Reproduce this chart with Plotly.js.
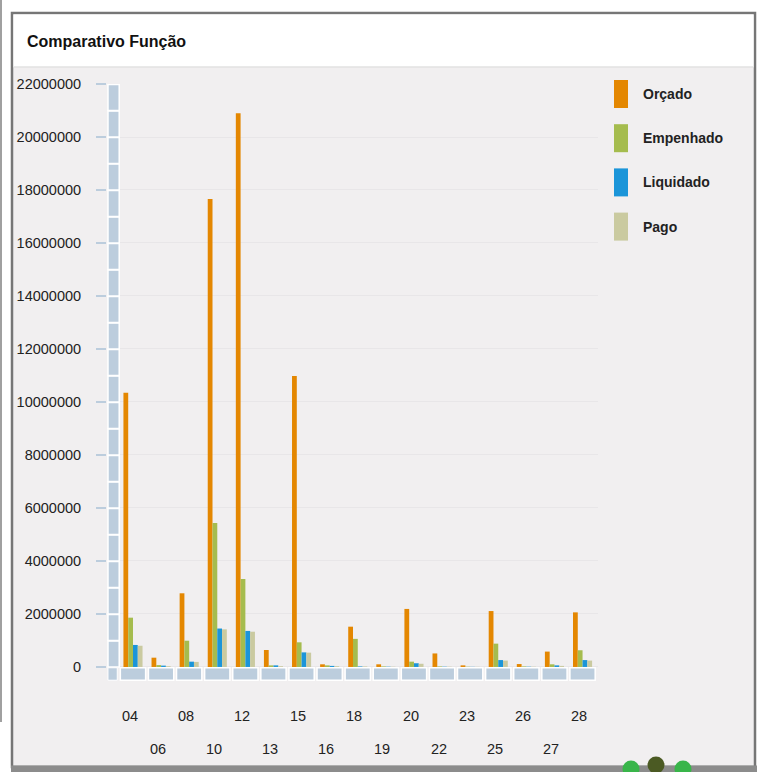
<!DOCTYPE html>
<html>
<head>
<meta charset="utf-8">
<script src="https://cdn.plot.ly/plotly-3.0.1.min.js"></script>
<style>html,body{margin:0;padding:0;background:#fff;}#chart{width:760px;height:772px;}</style>
</head>
<body>
<div id="chart"></div>
<script>
// ---- data ----
const categories = ['04','06','08','10','12','13','15','16','18','19','20','22','23','25','26','27','28'];
const orcado    = [10350000, 350000, 2780000, 17660000, 20900000, 640000, 10980000, 100000, 1520000, 100000, 2190000, 510000, 60000, 2110000, 110000, 580000, 2060000];
const empenhado = [1860000, 70000, 990000, 5430000, 3320000, 60000, 930000, 60000, 1060000, 20000, 200000, 20000, 10000, 880000, 20000, 100000, 630000];
const liquidado = [830000, 50000, 200000, 1450000, 1360000, 60000, 550000, 40000, 20000, 10000, 140000, 10000, 5000, 260000, 10000, 60000, 260000];
const pago      = [800000, 30000, 190000, 1420000, 1330000, 30000, 540000, 30000, 20000, 10000, 120000, 10000, 5000, 240000, 10000, 40000, 240000];
const seriesNames = ['Orçado','Empenhado','Liquidado','Pago'];
const seriesColors = ['#e48701','#a5bc4e','#1b95d9','#cacaa0'];
const yTickValues = [0,2000000,4000000,6000000,8000000,10000000,12000000,14000000,16000000,18000000,20000000,22000000];
const yTickLabels = ['0','2000000','4000000','6000000','8000000','10000000','12000000','14000000','16000000','18000000','20000000','22000000'];
const chartTitle = 'Comparativo Função';

// ---- layout helpers (pixel -> paper) ----
const L = 107, R = 598, T = 84, B = 681;
const px = x => (x - L) / (R - L);
const py = y => (B - y) / (B - T);
const FONT = '"Liberation Sans", Arial, sans-serif';
const WALL = '#bccddd';

const values = [orcado, empenhado, liquidado, pago];
const traces = seriesNames.map((n, i) => ({
  type: 'bar', name: n, x: categories, y: values[i],
  marker: {color: seriesColors[i], line: {width: 0}},
  hoverinfo: 'skip', showlegend: false
}));

const shapes = [];
// panel frame
shapes.push({type:'rect', xref:'paper', yref:'paper', x0:px(12), x1:px(755), y0:py(767), y1:py(13),
  fillcolor:'#f1eff0', line:{color:'#767676', width:2.5}, layer:'below'});
shapes.push({type:'rect', xref:'paper', yref:'paper', x0:px(13.5), x1:px(753.5), y0:py(67), y1:py(14.5),
  fillcolor:'#ffffff', line:{width:0}, layer:'below'});
shapes.push({type:'line', xref:'paper', yref:'paper', x0:px(13.5), x1:px(753.5), y0:py(67), y1:py(67),
  line:{color:'#e2e2e2', width:1.5}, layer:'below'});
shapes.push({type:'rect', xref:'paper', yref:'paper', x0:px(11), x1:px(757), y0:py(772), y1:py(765.5),
  fillcolor:'#8c8c8c', line:{width:0}, layer:'below'});
shapes.push({type:'line', xref:'paper', yref:'paper', x0:px(1), x1:px(1), y0:py(722), y1:py(0),
  line:{color:'#a0a0a0', width:2}, layer:'below'});

// left wall tiles (1,000,000 each)
for (let k = 0; k < 22; k++) {
  shapes.push({type:'rect', xref:'x', yref:'y', x0:-0.89, x1:-0.49, y0:k*1e6, y1:(k+1)*1e6 - 20000,
    fillcolor:WALL, line:{color:'#ffffff', width:1.5}, layer:'between'});
}
shapes.push({type:'rect', xref:'x', yref:'y', x0:-0.89, x1:-0.56, y0:-500000, y1:-30000,
  fillcolor:WALL, line:{color:'#ffffff', width:1}, layer:'between'});
// floor blocks
categories.forEach((c, i) => {
  shapes.push({type:'rect', xref:'x', yref:'y', x0:i-0.45, x1:i+0.45, y0:-500000, y1:-30000,
    fillcolor:WALL, line:{color:'#ffffff', width:1.5}, layer:'between'});
});

const annotations = [];
// staggered category labels (two rows)
const tickFont = {family:FONT, size:14.5, color:'#222'};
categories.forEach((c, i) => {
  annotations.push({xref:'x', yref:'paper', x:i-0.12, y:py(i % 2 === 0 ? 716 : 749),
    xanchor:'center', yanchor:'middle', text:c, showarrow:false, font:tickFont});
});

// custom legend
seriesNames.forEach((n, i) => {
  const cy = 94 + 44.2 * i;
  shapes.push({type:'rect', xref:'paper', yref:'paper', x0:px(614), x1:px(628), y0:py(cy+14), y1:py(cy-14),
    fillcolor:seriesColors[i], line:{width:0}});
  annotations.push({xref:'paper', yref:'paper', x:px(641), y:py(cy), xanchor:'left', yanchor:'middle',
    text:n, showarrow:false, font:{family:FONT, size:14, color:'#222', weight:'bold'}});
});
annotations.push({xref:'paper', yref:'paper', x:px(25), y:py(42), xanchor:'left', yanchor:'middle',
  text:chartTitle, showarrow:false, font:{family:FONT, size:16, color:'#111', weight:'bold'}});

// decorative round icons at bottom
[[631,769,'#39b54a'],[656,765,'#4b5a23'],[683,769,'#39b54a']].forEach(([cx,cy,col]) => {
  shapes.push({type:'circle', xref:'paper', yref:'paper', x0:px(cx-8.5), x1:px(cx+8.5), y0:py(cy+8.5), y1:py(cy-8.5),
    fillcolor:col, line:{width:0}});
});

const layout = {
  width:760, height:772,
  margin:{l:L, r:760-R, t:T, b:772-B, autoexpand:false},
  paper_bgcolor:'#ffffff', plot_bgcolor:'#f1eff0',
  barmode:'group', bargap:0.32, bargroupgap:0,
  showlegend:false,
  xaxis:{type:'category', range:[-0.925, 16.55], showticklabels:false, ticks:'', showgrid:false, zeroline:false, showline:false, fixedrange:true},
  yaxis:{range:[-530000, 22000000], tickmode:'array', tickvals:yTickValues, ticktext:yTickLabels,
    ticks:'outside', ticklen:10, tickwidth:2, tickcolor:WALL, showgrid:true, gridcolor:'#e8e6e8', gridwidth:1,
    zeroline:false, showline:false, tickfont:tickFont, ticklabelstandoff:12, fixedrange:true},
  shapes:shapes, annotations:annotations
};

Plotly.newPlot('chart', traces, layout, {staticPlot:true, displayModeBar:false});
</script>
</body>
</html>
